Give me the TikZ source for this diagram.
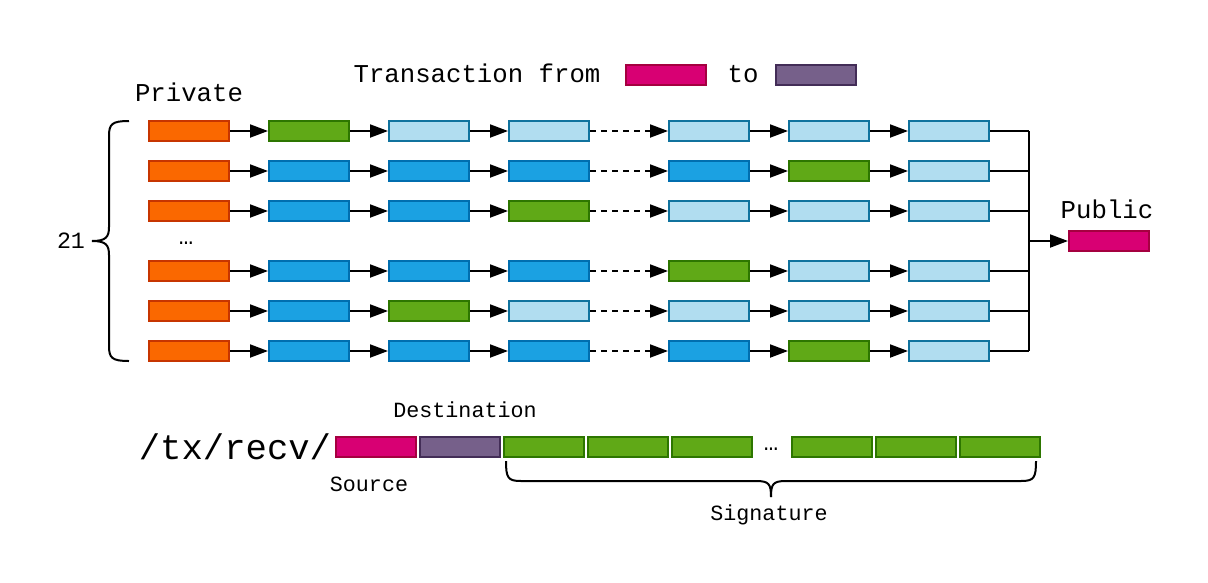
\documentclass[tikz,border=0pt]{standalone}
\usepackage{fontspec}
\setmainfont{Liberation Mono}
\usetikzlibrary{arrows.meta}
\definecolor{oF}{HTML}{FA6800}\definecolor{oD}{HTML}{C73500}
\definecolor{gF}{HTML}{60A917}\definecolor{gD}{HTML}{2D7600}
\definecolor{bF}{HTML}{1BA1E2}\definecolor{bD}{HTML}{006EAF}
\definecolor{lF}{HTML}{B1DDF0}\definecolor{lD}{HTML}{10739E}
\definecolor{pF}{HTML}{D80073}\definecolor{pD}{HTML}{A50040}
\definecolor{vF}{HTML}{76608A}\definecolor{vD}{HTML}{432D57}
\tikzset{
  bx/.style={draw=#1D, fill=#1F, rectangle, minimum width=80pt, minimum height=20pt, inner sep=0pt, line width=2pt},
  arr/.style={line width=2pt, -{Triangle[length=18pt,width=13pt]}},
  dsh/.style={dash pattern=on 6pt off 5pt},
  conn/.style={line width=2pt},
  big/.style={font=\fontsize{25.7}{30}\selectfont, anchor=base},
  mid/.style={font=\fontsize{21.7}{26}\selectfont, anchor=base},
  dts/.style={font=\fontsize{24}{28}\selectfont, anchor=base},
}
\newcommand\boxrow[9]{%
  \node[bx=#3] (r#1c1) at (189,#2) {};
  \node[bx=#4] (r#1c2) at (309,#2) {};
  \node[bx=#5] (r#1c3) at (429,#2) {};
  \node[bx=#6] (r#1c4) at (549,#2) {};
  \node[bx=#7] (r#1c5) at (709,#2) {};
  \node[bx=#8] (r#1c6) at (829,#2) {};
  \node[bx=#9] (r#1c7) at (949,#2) {};
  \draw[arr] (r#1c1) -- (r#1c2);
  \draw[arr] (r#1c2) -- (r#1c3);
  \draw[arr] (r#1c3) -- (r#1c4);
  \draw[arr, dsh] (r#1c4) -- (r#1c5);
  \draw[arr] (r#1c5) -- (r#1c6);
  \draw[arr] (r#1c6) -- (r#1c7);
  \draw[conn] (r#1c7.east) -- (r#1c7.east -| bus);
}
\begin{document}
\begin{tikzpicture}[x=1pt,y=-1pt]
\useasboundingbox (0,0) rectangle (1208,582);
\coordinate (bus) at (1029,241);
% title
\node[big] (title) at (477,82) {Transaction from};
\node[bx=p] (tfrom) at (666,75) {};
\node[big] (tto) at (743,82) {to};
\node[bx=v] (tto2) at (816,75) {};
\node[big] (priv) at (189,101) {Private};
\node[big] (publ) at (1107,218) {Public};
\node[font=\fontsize{23.3}{28}\selectfont, anchor=base] (n21) at (71,248) {21};
\node[dts] (dots1) at (186,244) {…};
% rows
\boxrow{1}{131}{o}{g}{l}{l}{l}{l}{l}
\boxrow{2}{171}{o}{b}{b}{b}{b}{g}{l}
\boxrow{3}{211}{o}{b}{b}{g}{l}{l}{l}
\boxrow{4}{271}{o}{b}{b}{b}{g}{l}{l}
\boxrow{5}{311}{o}{b}{g}{l}{l}{l}{l}
\boxrow{6}{351}{o}{b}{b}{b}{b}{g}{l}
\draw[conn] (r1c7.east -| bus) -- (r6c7.east -| bus);
\node[bx=p] (pub) at (1109,241) {};
\draw[arr] (bus) -- (pub);
% left brace
\coordinate (bt) at (129,121);
\coordinate (bb) at (129,361);
\coordinate (btip) at (92,241);
\draw[conn] (bt) .. controls (112,121) and (109,124) .. (109,136) -- (109,227)
  .. controls (109,237) and (106,241) .. (btip);
\draw[conn] (bb) .. controls (112,361) and (109,358) .. (109,346) -- (109,255)
  .. controls (109,245) and (106,241) .. (btip);
% bottom
\node[font=\fontsize{35.6}{40}\selectfont, anchor=base] (path) at (235,459) {/tx/recv/};
\node[bx=p] (s) at (376,447) {};
\node[bx=v] (d) at (460,447) {};
\node[bx=g] (g1) at (544,447) {};
\node[bx=g] (g2) at (628,447) {};
\node[bx=g] (g3) at (712,447) {};
\node[dts] (dots2) at (771,450) {…};
\node[bx=g] (g4) at (832,447) {};
\node[bx=g] (g5) at (916,447) {};
\node[bx=g] (g6) at (1000,447) {};
\node[mid] (dest) at (465,417) {Destination};
\node[mid] (src) at (369,491) {Source};
\node[mid] (sig) at (769,520) {Signature};
\coordinate (sl) at (506,461);
\coordinate (sr) at (1036,461);
\coordinate (stip) at (771,497);
\draw[conn] (sl) .. controls (506,478) and (508,481) .. (521,481) -- (756,481)
  .. controls (769,481) and (771,484) .. (stip);
\draw[conn] (sr) .. controls (1036,478) and (1034,481) .. (1021,481) -- (786,481)
  .. controls (773,481) and (771,484) .. (stip);
\end{tikzpicture}
\end{document}
